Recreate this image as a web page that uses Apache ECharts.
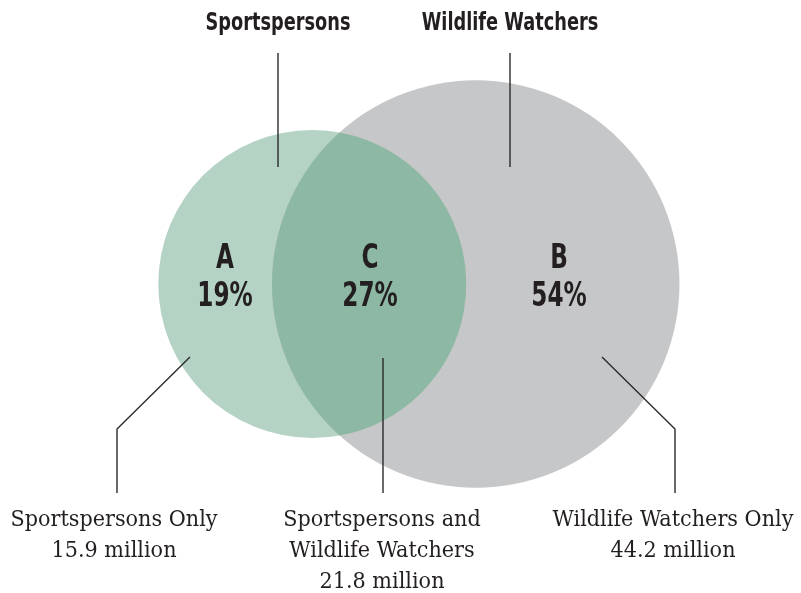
<!DOCTYPE html>
<html>
<head>
<meta charset="utf-8">
<script src="https://cdn.jsdelivr.net/npm/echarts@6/dist/echarts.min.js"></script>
<style>
  html, body { margin: 0; padding: 0; background: #ffffff; }
  #chart { width: 801px; height: 593px; }
</style>
</head>
<body>
<div id="chart"></div>
<script>
// Set and region data (millions of participants)
const setNames = ['Sportspersons', 'Wildlife Watchers'];
const regionLetters = ['A', 'C', 'B'];
const regionShares = [19, 27, 54];               // percent of all participants
const regionNames = ['Sportspersons Only', 'Sportspersons and\nWildlife Watchers', 'Wildlife Watchers Only'];
const regionMillions = [15.9, 21.8, 44.2];

// Set totals: each circle holds its own-only region plus the shared one
const sportTotal = regionMillions[0] + regionMillions[1];
const watchTotal = regionMillions[1] + regionMillions[2];
const sharedTotal = regionMillions[1];

// Area-proportional radii (area = value)
const rSport = Math.sqrt(sportTotal / Math.PI);
const rWatch = Math.sqrt(watchTotal / Math.PI);

function lensArea(d, a, b) {
  if (d >= a + b) return 0;
  if (d <= Math.abs(a - b)) return Math.PI * Math.min(a, b) ** 2;
  const t1 = a * a * Math.acos((d * d + a * a - b * b) / (2 * d * a));
  const t2 = b * b * Math.acos((d * d + b * b - a * a) / (2 * d * b));
  const t3 = 0.5 * Math.sqrt((-d + a + b) * (d + a - b) * (d - a + b) * (d + a + b));
  return t1 + t2 - t3;
}
// Centre distance chosen so the overlap area equals the shared total
let lo = Math.abs(rWatch - rSport), hi = rSport + rWatch;
for (let i = 0; i < 80; i++) {
  const mid = (lo + hi) / 2;
  if (lensArea(mid, rSport, rWatch) > sharedTotal) lo = mid; else hi = mid;
}
const dist = (lo + hi) / 2;

const circleData = [
  [-dist / 2, 0, rSport],
  [dist / 2, 0, rWatch]
];
const circleColors = ['#b4d3c4', '#c6c7c9'];
const lensColor = '#8db8a3';

// Plot scale: pixels per unit on both axes, origin between the two centres
const PX = 44.45;
const originX = 394, originY = 284;
const W = 801, H = 593;

const textColor = '#231f20';
const lineColor = '#2a2a2a';
const sansBold = '"DejaVu Sans Condensed", "DejaVu Sans", sans-serif';
const serif = '"DejaVu Serif Condensed", "DejaVu Serif", serif';

const chart = echarts.init(document.getElementById('chart'), null, { renderer: 'canvas' });

function textEl(text, x, y, sx, opts) {
  return {
    type: 'text', x: x, y: y, scaleX: sx, silent: true, z: 10,
    style: Object.assign({
      text: text, fill: textColor, textAlign: 'center', textVerticalAlign: 'middle'
    }, opts)
  };
}
function lineEl(points) {
  return {
    type: 'polyline', silent: true, z: 9,
    shape: { points: points },
    style: { stroke: lineColor, lineWidth: 1.4, fill: null }
  };
}

const regionLabelPos = [[225, 259], [370, 259], [559, 259]];
const graphics = [];
// Set titles
graphics.push(textEl(setNames[0], 278, 23, 0.79, { fontFamily: sansBold, fontWeight: 'bold', fontSize: 25 }));
graphics.push(textEl(setNames[1], 510, 23, 0.79, { fontFamily: sansBold, fontWeight: 'bold', fontSize: 25 }));
// Region letters and shares
regionLetters.forEach((letter, i) => {
  const p = regionLabelPos[i];
  graphics.push(textEl(letter, p[0], p[1], 0.78, { fontFamily: sansBold, fontWeight: 'bold', fontSize: 33 }));
  graphics.push(textEl(regionShares[i] + '%', p[0], p[1] + 38, 0.78, { fontFamily: sansBold, fontWeight: 'bold', fontSize: 33 }));
});
// Region captions below the diagram
const captionX = [114, 382, 673];
regionNames.forEach((name, i) => {
  graphics.push({
    type: 'text', x: captionX[i], y: 505, scaleX: 1.05, silent: true, z: 10,
    style: {
      text: name + '\n' + regionMillions[i] + ' million',
      fill: textColor, textAlign: 'center', textVerticalAlign: 'top',
      fontFamily: serif, fontSize: 22, lineHeight: 31
    }
  });
});
// Leader lines
graphics.push(lineEl([[278, 53], [278, 167]]));
graphics.push(lineEl([[510, 53], [510, 167]]));
graphics.push(lineEl([[190, 357], [117, 429], [117, 493]]));
graphics.push(lineEl([[383, 358], [383, 493]]));
graphics.push(lineEl([[602, 357], [675, 429], [675, 493]]));

const option = {
  animation: false,
  backgroundColor: '#ffffff',
  grid: { left: 0, right: 0, top: 0, bottom: 0 },
  xAxis: { type: 'value', min: -originX / PX, max: (W - originX) / PX, show: false },
  yAxis: { type: 'value', min: -(H - originY) / PX, max: originY / PX, show: false },
  graphic: graphics,
  series: [
    {
      type: 'custom',
      coordinateSystem: 'cartesian2d',
      silent: true,
      clip: false,
      data: circleData,
      renderItem: function (params, api) {
        const c = api.coord([api.value(0), api.value(1)]);
        const r = api.size([api.value(2), 0])[0];
        return {
          type: 'circle',
          shape: { cx: c[0], cy: c[1], r: r },
          style: { fill: circleColors[params.dataIndex] }
        };
      },
      z: 1
    },
    {
      type: 'custom',
      coordinateSystem: 'cartesian2d',
      silent: true,
      clip: false,
      data: [[circleData[0][0], circleData[0][1], circleData[0][2], circleData[1][0], circleData[1][1], circleData[1][2]]],
      renderItem: function (params, api) {
        const c1 = api.coord([api.value(0), api.value(1)]);
        const c2 = api.coord([api.value(3), api.value(4)]);
        const a = api.size([api.value(2), 0])[0];
        const b = api.size([api.value(5), 0])[0];
        const dx = c2[0] - c1[0], dy = c2[1] - c1[1];
        const d = Math.sqrt(dx * dx + dy * dy);
        const along = (d * d + a * a - b * b) / (2 * d);
        const h = Math.sqrt(a * a - along * along);
        const ux = dx / d, uy = dy / d;
        const mx = c1[0] + ux * along, my = c1[1] + uy * along;
        const p1 = [mx + uy * h, my - ux * h];
        const p2 = [mx - uy * h, my + ux * h];
        const top = p1[1] < p2[1] ? p1 : p2;
        const bot = p1[1] < p2[1] ? p2 : p1;
        const path = 'M' + top[0] + ' ' + top[1] +
          ' A' + a + ' ' + a + ' 0 0 1 ' + bot[0] + ' ' + bot[1] +
          ' A' + b + ' ' + b + ' 0 0 1 ' + top[0] + ' ' + top[1] + ' Z';
        return {
          type: 'path',
          shape: { pathData: path },
          style: { fill: lensColor }
        };
      },
      z: 2
    }
  ]
};
chart.setOption(option);
</script>
</body>
</html>
